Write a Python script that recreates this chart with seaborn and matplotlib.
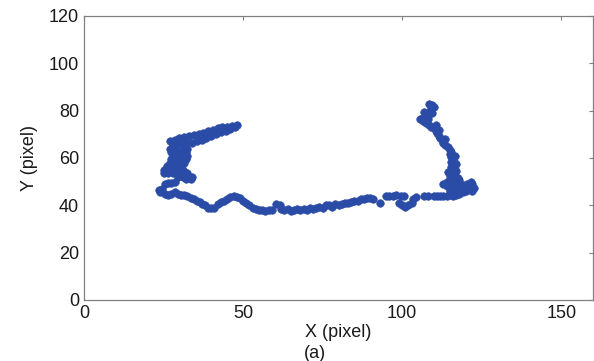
import numpy as np
import pandas as pd
import matplotlib
matplotlib.use("Agg")
import matplotlib.pyplot as plt
import seaborn as sns

# ---------------- data ----------------
band_top_x = [27, 28.5, 30, 31.5, 33, 34.5, 36, 37.5, 39, 40.5, 42, 43.5, 45, 46.5, 48]
band_top_y = [67, 67.8, 68.5, 69, 69.3, 69.6, 70, 70.6, 71.3, 72, 72.6, 73.1, 73.3, 73.6, 73.8]

band_bot_x = [28, 29.5, 31, 32.5, 34, 35.5, 37, 38.5, 40, 41.5, 43, 44.5, 46, 47.5]
band_bot_y = [65.5, 65.8, 66, 66.2, 66.4, 67, 67.8, 68.6, 69.3, 70, 70.8, 71.5, 72.2, 73]

column_x = [27, 28.5, 31, 32.5, 27.5, 29, 30.5, 32, 28, 29.5, 31, 32.5,
            27.5, 29, 30.5, 32, 27, 28.5, 30, 31.5, 26, 27.5, 29, 30.5,
            25, 26.5, 28, 29.5, 31, 25, 26.5, 28, 29.5, 31, 32.5,
            29.5, 31, 32.5, 34, 32, 33.5]
column_y = [64, 64, 64, 64, 62.5, 62.5, 62.5, 62.5, 61, 61, 61, 61,
            59.5, 59.5, 59.5, 59.5, 58, 58, 58, 58, 56.5, 56.5, 56.5, 56.5,
            55, 55, 55, 55, 55, 53.5, 53.5, 53.5, 53.5, 53.5, 53.5,
            52, 52, 52, 52, 51, 51]

blob_x = [25.5, 26.5, 27.5, 28.5]
blob_y = [49, 49.5, 49.5, 50]

bottom_x = [23.5, 24, 24.5, 25.5, 26.5, 27.5, 28.5, 29.5, 30.5, 31.5, 32.5,
            33.5, 34.5, 35.5, 36.5, 37, 38, 39, 40, 41,
            42, 43, 44, 45, 46, 47, 48, 49, 50,
            51, 52, 53, 54, 55, 56, 57, 58, 59,
            60.5, 61.5,
            62, 63, 64, 65, 66, 67, 68, 69, 70, 71, 72, 73, 74, 75, 76, 77, 78, 79, 80,
            81, 82, 83, 84, 85, 86, 87, 88, 89, 90, 91,
            93,
            95, 96, 97, 98, 99.5, 100.5,
            99, 100, 101, 102, 103, 103.5, 104.5,
            107, 108, 110, 111, 112, 113, 114, 115, 116, 117, 118, 119, 120]
bottom_y = [46.5, 45.5, 47, 45, 44.5, 45, 45.5, 45, 44.5, 44.5, 44,
            43, 42.5, 42, 41.5, 40.5, 40, 39, 38.8, 39,
            40.5, 41.5, 42, 42.5, 43.5, 44, 43.5, 43, 42,
            41, 40, 39, 38.5, 38, 38, 37.8, 38, 38,
            40.5, 40,
            38.5, 38, 38.5, 37.5, 38, 38.5, 38, 38.5, 38, 39, 38.5, 39, 39.5, 39, 40, 40, 39.5, 40.5, 40,
            40.5, 41, 41, 41.5, 42, 42, 42.5, 42.5, 43, 43, 42.5,
            41,
            44, 44, 44, 44.5, 44, 44,
            41, 40, 39.5, 40, 41, 42.5, 43.5,
            44, 44, 44, 44, 44, 44, 44, 44.5, 44, 44.5, 45, 45.5, 46]

cluster_x = [115, 116, 117, 118, 119, 120, 121, 122, 122.5, 122, 121.5, 120.5,
             119, 118, 117, 116, 115, 114, 113, 114, 115, 116, 117, 118]
cluster_y = [46, 46.5, 47, 46, 47, 48, 47, 46, 47.5, 49, 50, 49,
             48.5, 49, 50, 49.5, 49, 48, 49, 50, 51, 51.5, 51, 50.5]

arm_x = [108.5, 109.5, 110, 109, 108.5, 109.5, 107.5, 106.5, 105.5, 106.5, 107.5,
         108.5, 109, 110, 110.5, 111, 111.5, 112, 112.5, 113, 113.5, 114.5, 115,
         115.5, 115, 115.5, 116, 115.5, 116.5, 116, 115.5, 116.5, 117, 116, 115,
         116.5, 117.5, 107, 108, 110.5, 111.5, 113.5, 116.5, 117, 114.5]
arm_y = [83, 82.5, 81.5, 81, 79.5, 79, 78, 77, 76.5, 75.5, 75,
         74, 73, 72.5, 71.5, 70.5, 69.5, 68.5, 67.5, 66.5, 65.5, 64.5, 63.5,
         62.5, 61.5, 60.5, 59.5, 58.5, 58, 57, 56, 55, 54.5, 53.5, 52.5,
         52, 51.5, 79.5, 76.5, 74, 72, 68, 61, 57.5, 54]

x_ticks = [0, 50, 100, 150]
y_ticks = [0, 20, 40, 60, 80, 100, 120]

# ---------------- plot ----------------
sns.set_theme(style="white")
plt.rcParams["font.family"] = ["Liberation Sans", "DejaVu Sans"]

df = pd.DataFrame({
    "x": np.concatenate([band_top_x, band_bot_x, column_x, blob_x, bottom_x, cluster_x, arm_x]),
    "y": np.concatenate([band_top_y, band_bot_y, column_y, blob_y, bottom_y, cluster_y, arm_y]),
})

fig = plt.figure(figsize=(5.94, 3.61), dpi=100)
ax = fig.add_axes([84 / 594, 61 / 361, (593 - 84) / 594, 284 / 361])

sns.scatterplot(data=df, x="x", y="y", ax=ax, s=30, color="#2a4ca6",
                edgecolor="#2a4ca6", linewidth=0.4, legend=False, zorder=3)

ax.set_xlim(0, 160)
ax.set_ylim(0, 120)
ax.set_xticks(x_ticks)
ax.set_yticks(y_ticks)
ax.tick_params(direction="in", length=3, width=0.8, top=True, right=True,
               labelsize=13, color="#808080", labelcolor="#1a1a1a", pad=3.5)
for sp in ax.spines.values():
    sp.set_visible(True)
    sp.set_color("#808080")
    sp.set_linewidth(0.9)

ax.set_xlabel("X (pixel)", fontsize=13, color="#1a1a1a", labelpad=1.5)
ax.set_ylabel("Y (pixel)", fontsize=13, color="#1a1a1a", labelpad=8)
fig.text(315 / 594, 3 / 361, "(a)", ha="center", va="baseline",
         fontsize=13, color="#1a1a1a")

fig.savefig("out.png", dpi=100)
